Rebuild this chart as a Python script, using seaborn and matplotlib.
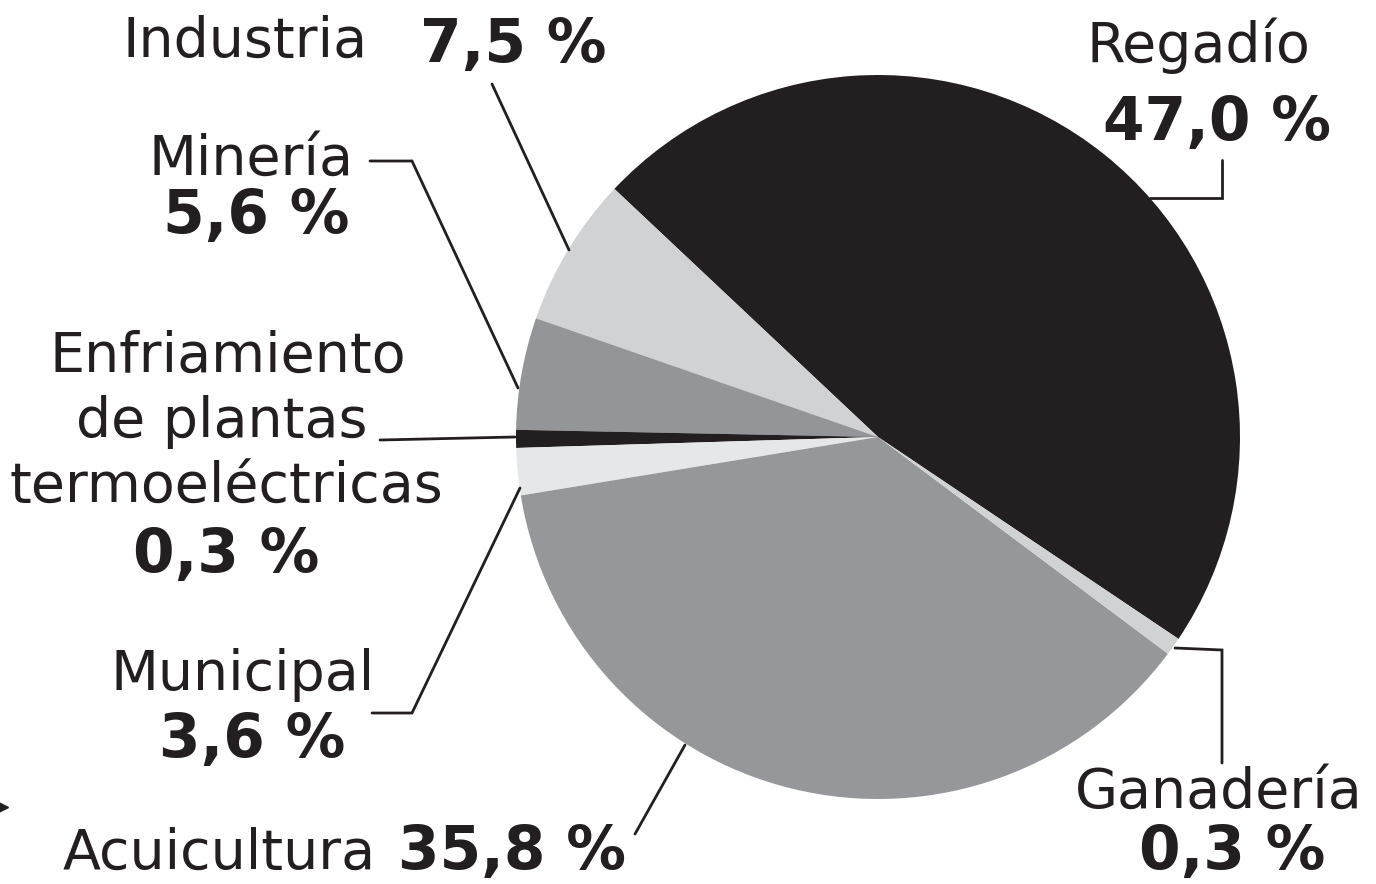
import matplotlib
matplotlib.use("Agg")
import matplotlib.pyplot as plt
import seaborn as sns

# datos (porcentajes rotulados y proporción de cada sector tal como se dibuja)
sectores = ["Regadío", "Industria", "Minería", "Enfriamiento", "Municipal", "Acuicultura", "Ganadería"]
porcentaje_rotulo = ["47,0 %", "7,5 %", "5,6 %", "0,3 %", "3,6 %", "35,8 %", "0,3 %"]
proporcion_dibujo = [47.4, 6.7, 5.0, 0.8, 2.1, 37.2, 0.8]
colores = ["#231f20", "#d1d2d4", "#939598", "#231f20", "#e6e7e8", "#96979a", "#d1d2d4"]

sns.set_theme(style="white")
plt.rcParams['font.family'] = ['DejaVu Sans']

W, H = 1376, 884
TXT = "#231f20"


def py(y):
    # coordenada y de pixel (desde arriba) -> coordenada de datos
    return H - y


fig = plt.figure(figsize=(W / 100, H / 100), dpi=100)
ax = fig.add_axes([0, 0, 1, 1])

ax.pie(proporcion_dibujo, colors=colores, startangle=326.1, counterclock=True,
       center=(878, py(437)), radius=362, frame=True,
       wedgeprops=dict(linewidth=0))

ax.set_xlim(0, W)
ax.set_ylim(0, H)
ax.set_aspect('equal')
ax.axis('off')

# lineas guia
lineas = [
    [(492, 84), (569, 250)],
    [(1222, 160), (1222, 198), (1150, 198)],
    [(370, 161), (412, 161), (518, 388)],
    [(380, 440), (515, 437)],
    [(372, 713), (412, 713), (520, 488)],
    [(635, 834), (685, 745)],
    [(1175, 648), (1222, 650), (1222, 763)],
]
for pts in lineas:
    ax.plot([p[0] for p in pts], [py(p[1]) for p in pts], color=TXT, lw=2.0,
            solid_joinstyle='miter')

# textos
fs_n, fs_b = 40, 43


def nombre(x, y, s, ha='center'):
    ax.text(x, py(y), s, fontsize=fs_n, color=TXT, ha=ha, va='baseline')


def pct(x, y, s, ha='center'):
    ax.text(x, py(y), s, fontsize=fs_b, color=TXT, ha=ha, va='baseline', fontweight='bold')


nombre(123, 57, "Industria", ha='left')
pct(420, 62, porcentaje_rotulo[1], ha='left')

nombre(1198, 62, "Regadío")
pct(1217, 140, porcentaje_rotulo[0])

nombre(251, 175, "Minería")
pct(256, 233, porcentaje_rotulo[2])

nombre(228, 372, "Enfriamiento")
nombre(222, 437, "de plantas")
nombre(226, 503, "termoeléctricas")
pct(226, 572, porcentaje_rotulo[3])

nombre(243, 690, "Municipal")
pct(252, 757, porcentaje_rotulo[4])

nombre(63, 869, "Acuicultura", ha='left')
pct(398, 869, porcentaje_rotulo[5], ha='left')

nombre(1219, 808, "Ganadería")
pct(1232, 869, porcentaje_rotulo[6])

# marca residual en el borde izquierdo
ax.plot([-3], [py(807)], marker='>', markersize=16, color=TXT, clip_on=True)

fig.savefig("out.png", dpi=100, facecolor="white")
